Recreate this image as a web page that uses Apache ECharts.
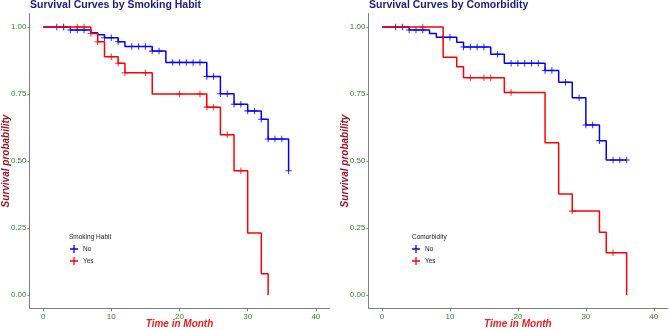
<!DOCTYPE html>
<html>
<head>
<meta charset="utf-8">
<script src="https://cdn.jsdelivr.net/npm/echarts/dist/echarts.min.js"></script>
<style>
  html, body { margin: 0; padding: 0; background: #fff; }
  #chart { width: 669px; height: 330px; }
</style>
</head>
<body>
<div id="chart"></div>
<script>
// Smoking habit panel - step points (time, survival)
var smokeNoTime = [0, 4, 7, 8, 9, 11, 12, 16, 18, 24, 26, 28, 30, 32, 33, 36];
var smokeNoSurv = [1, 0.989, 0.979, 0.971, 0.960, 0.945, 0.927, 0.910, 0.868, 0.815, 0.751, 0.712, 0.687, 0.656, 0.582, 0.464];
var smokeNoCensor = [[2, 1], [3, 1], [4, 0.989], [5, 0.989], [6, 0.989], [9, 0.960], [10, 0.960], [11, 0.945],
  [13, 0.927], [14, 0.927], [15, 0.927], [16, 0.910], [17, 0.910], [19, 0.868], [20, 0.868], [21, 0.868],
  [22, 0.868], [23, 0.868], [24, 0.815], [25, 0.815], [26, 0.751], [27, 0.751], [28, 0.712], [29, 0.712],
  [30, 0.687], [31, 0.687], [32, 0.656], [33, 0.582], [34, 0.582], [35, 0.582], [36, 0.464]];

var smokeYesTime = [0, 7, 8, 9, 11, 12, 16, 24, 26, 28, 30, 32, 33];
var smokeYesSurv = [1, 0.976, 0.945, 0.889, 0.865, 0.829, 0.750, 0.701, 0.598, 0.464, 0.231, 0.079, 0];
var smokeYesCensor = [[3, 1], [5, 1], [6, 1], [7, 0.976], [8, 0.945], [10, 0.889], [11, 0.865], [12, 0.829],
  [15, 0.829], [20, 0.750], [23, 0.750], [24, 0.701], [25, 0.701], [27, 0.598], [29, 0.464]];

// Comorbidity panel
var comorbNoTime = [0, 4, 7, 8, 11, 12, 16, 18, 24, 26, 28, 30, 32, 33, 36];
var comorbNoSurv = [1, 0.989, 0.976, 0.962, 0.943, 0.925, 0.898, 0.865, 0.838, 0.794, 0.736, 0.634, 0.576, 0.504, 0.504];
var comorbNoCensor = [[2, 1], [3, 1], [4, 0.989], [5, 0.989], [6, 0.989], [9, 0.962], [10, 0.962], [12, 0.925],
  [13, 0.925], [14, 0.925], [15, 0.925], [17, 0.898], [19, 0.865], [20, 0.865], [21, 0.865], [22, 0.865],
  [23, 0.865], [24, 0.838], [25, 0.838], [27, 0.794], [29, 0.736], [30, 0.634], [31, 0.634], [32, 0.576],
  [34, 0.504], [35, 0.504], [36, 0.504]];

var comorbYesTime = [0, 9, 11, 12, 18, 24, 26, 28, 32, 33, 36];
var comorbYesSurv = [1, 0.887, 0.852, 0.811, 0.756, 0.568, 0.377, 0.313, 0.234, 0.158, 0];
var comorbYesCensor = [[6, 1], [13, 0.811], [15, 0.811], [16, 0.811], [19, 0.756], [28, 0.313], [34, 0.158]];

var xTicks = [0, 10, 20, 30, 40];
var yTicks = [0, 0.25, 0.5, 0.75, 1];

var font = "Liberation Sans";
var blue = "#0000ff";
var red = "#ff0000";
var plus = "path://M4.2,0H5.8V4.2H10V5.8H5.8V10H4.2V5.8H0V4.2H4.2Z";

function pairs(t, s) {
  var out = [];
  for (var i = 0; i < t.length; i++) out.push([t[i], s[i]]);
  return out;
}

function xAxisFor(i) {
  return {
    gridIndex: i, type: "value", min: -2, max: 42,
    name: "Time in Month", nameLocation: "middle", nameGap: 11, nameMoveOverlap: false,
    nameTextStyle: { color: "#ee1c1c", fontSize: 10, fontWeight: "bold", fontStyle: "italic", fontFamily: font },
    axisLine: { onZero: false, lineStyle: { color: "#7f7f7f", width: 1 } },
    axisTick: { length: 3, customValues: xTicks, lineStyle: { color: "#7f7f7f" } },
    axisLabel: { customValues: xTicks, color: "#2e7d32", fontSize: 8, margin: 4, fontFamily: font },
    splitLine: { show: false }
  };
}

function yAxisFor(i) {
  return {
    gridIndex: i, type: "value", min: -0.05, max: 1.05,
    name: "Survival probability", nameLocation: "middle", nameGap: 18.5, nameMoveOverlap: false,
    nameTextStyle: { color: "#9b1020", fontSize: 10, fontWeight: "bold", fontStyle: "italic", fontFamily: font },
    axisLine: { show: true, onZero: false, lineStyle: { color: "#7f7f7f", width: 1 } },
    axisTick: { show: true, length: 2, customValues: yTicks, lineStyle: { color: "#7f7f7f" } },
    axisLabel: {
      customValues: yTicks, color: "#2e7d32", fontSize: 8, margin: 3, fontFamily: font,
      formatter: function (v) { return v.toFixed(2); }
    },
    splitLine: { show: false }
  };
}

function stepSeries(name, i, t, s, color) {
  return {
    name: name, type: "line", xAxisIndex: i, yAxisIndex: i, step: "end",
    data: pairs(t, s), showSymbol: false, symbol: "none",
    lineStyle: { color: color, width: 1.5 }, itemStyle: { color: color },
    animation: false
  };
}

function censorSeries(name, i, pts, color) {
  return {
    name: name, type: "scatter", xAxisIndex: i, yAxisIndex: i,
    data: pts, symbol: plus, symbolSize: 6.5,
    itemStyle: { color: color }, animation: false
  };
}

function legendFor(left) {
  return {
    data: ["No", "Yes"], orient: "vertical", left: left, top: 240,
    icon: plus, itemWidth: 8, itemHeight: 8, itemGap: 4,
    textStyle: { fontSize: 6.5, color: "#222", fontFamily: font }
  };
}

var chart = echarts.init(document.getElementById("chart"));
var option = {
  backgroundColor: "#fff",
  title: [
    { text: "Survival Curves by Smoking Habit", left: 30, top: 0, padding: 0,
      textStyle: { color: "#1a1a8c", fontSize: 10.5, fontWeight: "bold", fontFamily: font } },
    { text: "Survival Curves by Comorbidity", left: 369, top: 0, padding: 0,
      textStyle: { color: "#1a1a8c", fontSize: 10.5, fontWeight: "bold", fontFamily: font } },
    { text: "Smoking Habit", left: 64, top: 229,
      textStyle: { color: "#222", fontSize: 6.5, fontWeight: "normal", fontFamily: font } },
    { text: "Comorbidity", left: 407, top: 229,
      textStyle: { color: "#222", fontSize: 6.5, fontWeight: "normal", fontFamily: font } }
  ],
  legend: [legendFor(65), legendFor(407)],
  grid: [
    { left: 29.5, top: 13.6, width: 300, height: 294.8, outerBoundsMode: "none", containLabel: false },
    { left: 368.4, top: 13.6, width: 299, height: 294.8, outerBoundsMode: "none", containLabel: false }
  ],
  xAxis: [xAxisFor(0), xAxisFor(1)],
  yAxis: [yAxisFor(0), yAxisFor(1)],
  series: [
    stepSeries("No", 0, smokeNoTime, smokeNoSurv, blue),
    stepSeries("Yes", 0, smokeYesTime, smokeYesSurv, red),
    censorSeries("No censor", 0, smokeNoCensor, blue),
    censorSeries("Yes censor", 0, smokeYesCensor, red),
    stepSeries("No", 1, comorbNoTime, comorbNoSurv, blue),
    stepSeries("Yes", 1, comorbYesTime, comorbYesSurv, red),
    censorSeries("No censor", 1, comorbNoCensor, blue),
    censorSeries("Yes censor", 1, comorbYesCensor, red)
  ]
};
chart.setOption(option);
window.addEventListener("resize", function () { chart.resize(); });
</script>
</body>
</html>
